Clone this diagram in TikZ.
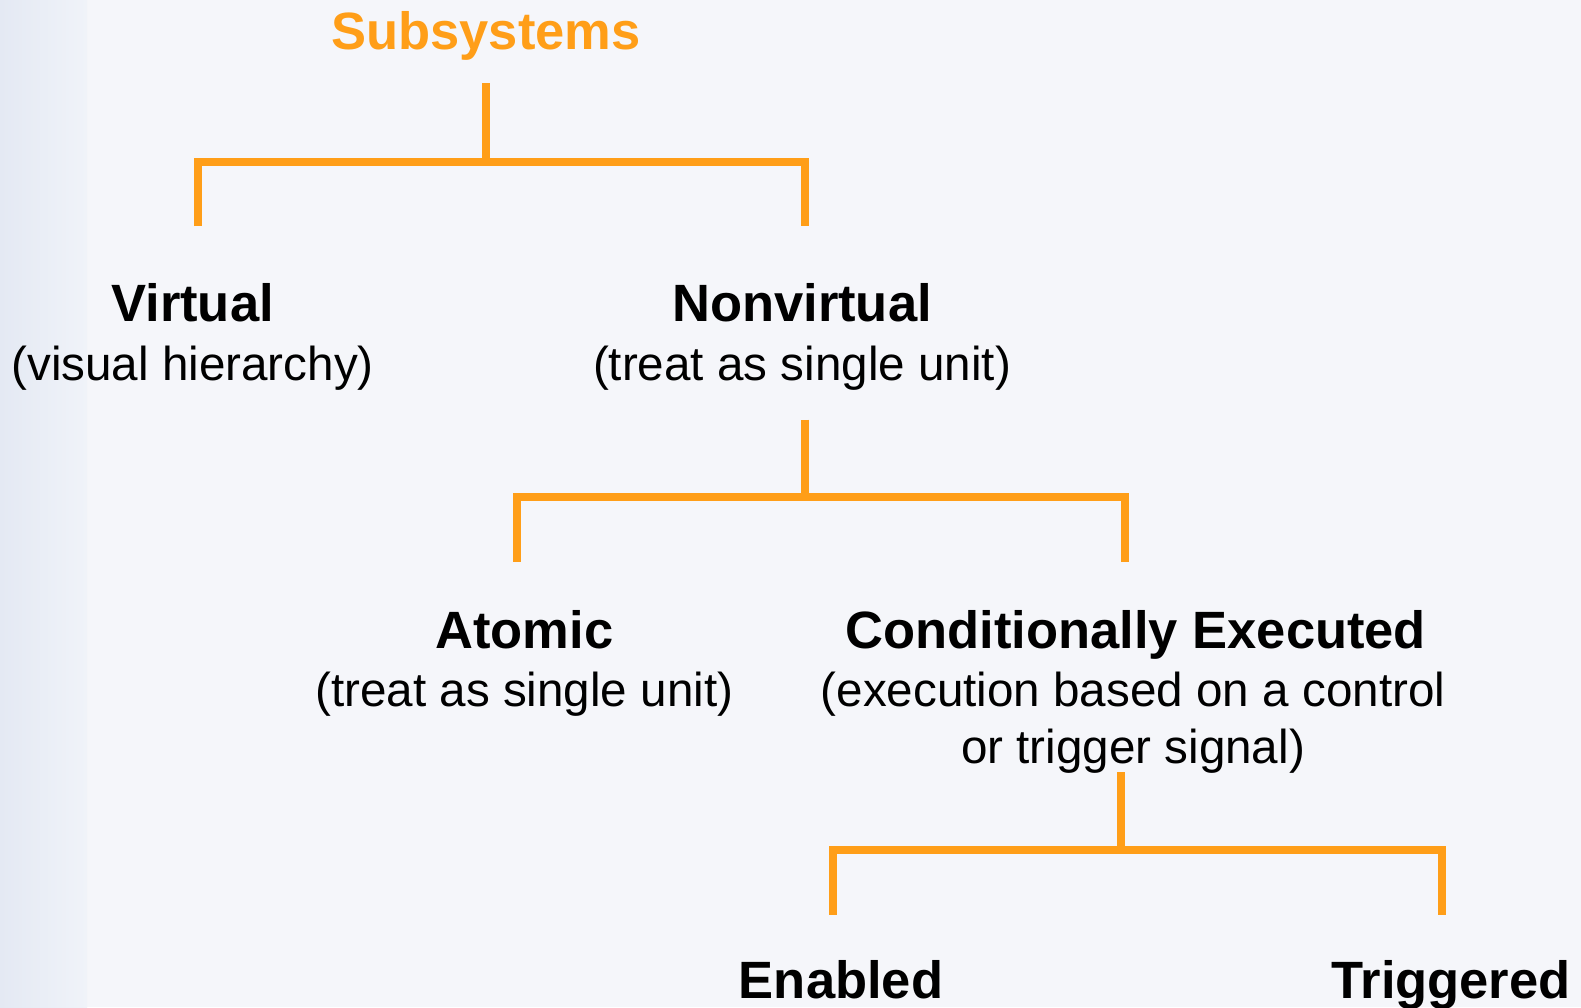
\documentclass[tikz,border=0pt]{standalone}
\usepackage{fontspec}
\setmainfont{Liberation Sans}
\definecolor{branch}{RGB}{255,158,24}
\definecolor{paper}{RGB}{245,246,250}
\definecolor{stripL}{RGB}{228,233,243}
\definecolor{stripR}{RGB}{240,243,249}
\tikzset{
  heading/.style={anchor=base, inner sep=0pt, font=\fontsize{52.5}{60}\selectfont\bfseries},
  note/.style={anchor=base, inner sep=0pt, align=center, font=\fontsize{47.6}{57}\selectfont},
  branchline/.style={draw=branch, line width=8pt, line join=miter},
}
\begin{document}
\begin{tikzpicture}[x=1pt,y=-1pt]
  % page and left strip
  \fill[paper] (0,0) rectangle (1581,1007);
  \shade[left color=stripL, right color=stripR] (0,0) rectangle (87,1007);
  \useasboundingbox (0,0) rectangle (1581,1007);

  % labels
  \node[heading, text=branch] (sub) at (486,49.4) {Subsystems};

  \node[heading] (virt) at (192.6,321.6) {Virtual};
  \node[note] (virtN) at (192.6,380) {(visual hierarchy)};

  \node[heading] (nonv) at (802,321.6) {Nonvirtual};
  \node[note] (nonvN) at (802,380) {(treat as single unit)};

  \node[heading] (atom) at (524.3,648) {Atomic};
  \node[note] (atomN) at (524.3,706) {(treat as single unit)};

  \node[heading] (cond) at (1135.8,648) {Conditionally Executed};
  % base anchor of a two-line node sits on its last line
  \node[note] (condN) at (1133,763) {(execution based on a control\\or trigger signal)};

  \node[heading] (enab) at (841,998) {Enabled};
  \node[heading] (trig) at (1451,998) {Triggered};

  % branch points
  \coordinate (r0) at (486,83);    \coordinate (j0) at (486,162);
  \coordinate (d1) at (197.6,226); \coordinate (d2) at (804.6,226);

  \coordinate (r1) at (804.6,419.5); \coordinate (j1) at (804.6,497);
  \coordinate (d3) at (517,561.6);   \coordinate (d4) at (1125,561.6);

  \coordinate (r2) at (1121,772);  \coordinate (j2) at (1121,850);
  \coordinate (d5) at (833,914.5); \coordinate (d6) at (1442,914.5);

  % brackets
  \draw[branchline] (r0) -- (j0);
  \draw[branchline] (d1) |- (j0) -| (d2);

  \draw[branchline] (r1) -- (j1);
  \draw[branchline] (d3) |- (j1) -| (d4);

  \draw[branchline] (r2) -- (j2);
  \draw[branchline] (d5) |- (j2) -| (d6);
\end{tikzpicture}
\end{document}
